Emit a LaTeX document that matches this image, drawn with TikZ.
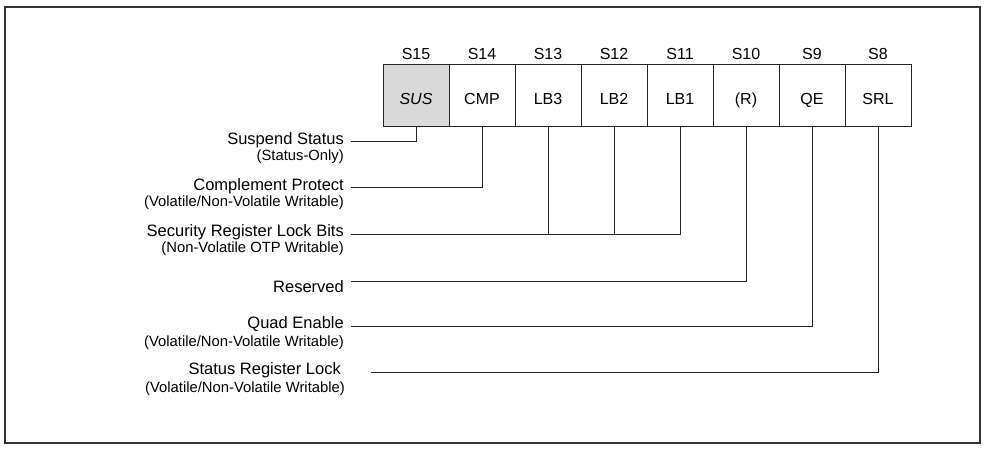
\documentclass[tikz,border=0pt]{standalone}
\usepackage{fontspec}
\setmainfont{Liberation Sans}
\tikzset{
 cell/.style={draw=black!85, line width=1pt, minimum width=66pt, minimum height=62pt, inner sep=0pt, text height=18pt, text depth=0pt, font=\fontsize{16}{18}\selectfont},
 bitname/.style={inner sep=0pt, font=\fontsize{16}{18}\selectfont},
 mainlab/.style={anchor=east, inner sep=0pt, font=\fontsize{16.5}{19}\selectfont},
 sublab/.style={anchor=east, inner sep=0pt, font=\fontsize{14.8}{17}\selectfont},
 wire/.style={draw=black!85, line width=1pt}
}
\begin{document}
\begin{tikzpicture}[x=1pt,y=-1pt]
\useasboundingbox (0,0) rectangle (987,449);
\draw[line width=1.5pt, black!80] (5,7) rectangle (980,443);
% register cells
 \node[cell, fill=black!15] (s15) at (416,96) {\textit{SUS}};
 \node[cell] (s14) at (482,96) {CMP};
 \node[cell] (s13) at (548,96) {LB3};
 \node[cell] (s12) at (614,96) {LB2};
 \node[cell] (s11) at (680,96) {LB1};
 \node[cell] (s10) at (746,96) {(R)};
 \node[cell] (s9) at (812,96) {QE};
 \node[cell] (s8) at (878,96) {SRL};
% bit numbers
 \node[bitname] (n15) at (416,54) {S15};
 \node[bitname] (n14) at (482,54) {S14};
 \node[bitname] (n13) at (548,54) {S13};
 \node[bitname] (n12) at (614,54) {S12};
 \node[bitname] (n11) at (680,54) {S11};
 \node[bitname] (n10) at (746,54) {S10};
 \node[bitname] (n9) at (812,54) {S9};
 \node[bitname] (n8) at (878,54) {S8};
% descriptions
 \node[mainlab] (sus) at (344,140) {Suspend Status};
 \node[sublab] (sussub) at (344,157) {(Status-Only)};
 \node[mainlab] (cmp) at (344,186) {Complement Protect};
 \node[sublab] (cmpsub) at (344,203) {(Volatile/Non-Volatile Writable)};
 \node[mainlab] (lb) at (344,232) {Security Register Lock Bits};
 \node[sublab] (lbsub) at (344,249) {(Non-Volatile OTP Writable)};
 \node[mainlab] (res) at (344,287) {Reserved};
 \node[mainlab] (qe) at (344,324) {Quad Enable};
 \node[sublab] (qesub) at (344,343) {(Volatile/Non-Volatile Writable)};
 \node[mainlab] (srl) at (341,370) {Status Register Lock};
 \node[sublab] (srlsub) at (345,389) {(Volatile/Non-Volatile Writable)};
% line ends
 \coordinate (c15) at (351,142);
 \coordinate (c14) at (351,188);
 \coordinate (c11) at (351,234);
 \coordinate (c10) at (351,281);
 \coordinate (c9) at (351,326);
 \coordinate (c8) at (371,372);
% connectors
 \draw[wire] (s15.south) |- (c15);
 \draw[wire] (s14.south) |- (c14);
 \draw[wire] (s11.south) |- (c11);
 \draw[wire] (s12.south) -- (s12.south |- c11);
 \draw[wire] (s13.south) -- (s13.south |- c11);
 \draw[wire] (s10.south) |- (c10);
 \draw[wire] (s9.south) |- (c9);
 \draw[wire] (s8.south) |- (c8);
\end{tikzpicture}
\end{document}
